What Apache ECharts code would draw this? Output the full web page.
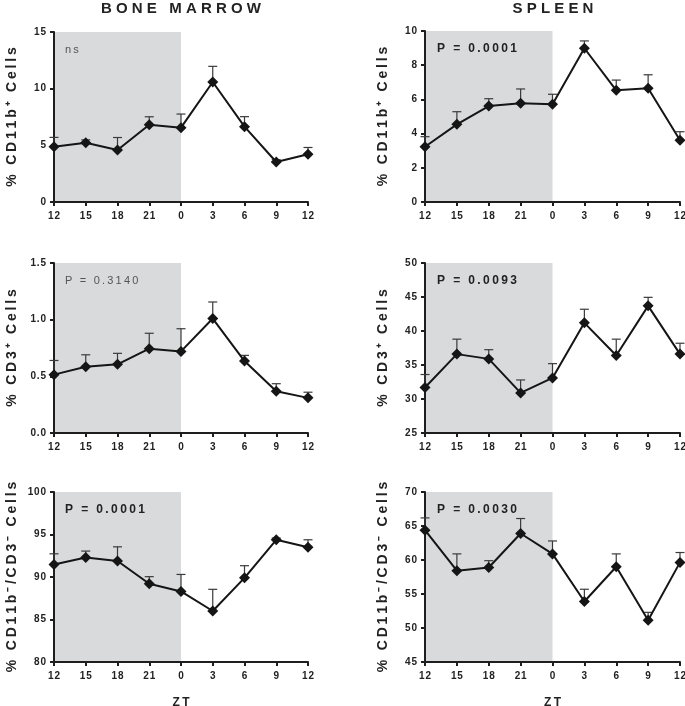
<!DOCTYPE html>
<html><head><meta charset="utf-8">
<script src="https://cdn.jsdelivr.net/npm/echarts@6/dist/echarts.min.js"></script>
<style>html,body{margin:0;padding:0;background:#fff}#c{width:685px;height:706px}</style>
</head><body><div id="c"></div>
<script>
// ZT categories (x axis tick labels)
const zt = ['12','15','18','21','0','3','6','9','12'];
// dark phase: from ZT12 (index 0) to ZT0 (index 4)
const darkPhase = [0, 4];

// Bone marrow
const bmCd11b    = [4.88, 5.23, 4.59, 6.82, 6.56, 10.59, 6.65, 3.53, 4.21];
const bmCd11bErr = [0.82, 0.25, 1.10, 0.70, 1.20, 1.38, 0.88, 0.20, 0.60];
const bmCd3      = [0.515, 0.585, 0.606, 0.744, 0.720, 1.010, 0.635, 0.368, 0.310];
const bmCd3Err   = [0.125, 0.105, 0.097, 0.136, 0.200, 0.146, 0.050, 0.067, 0.050];
const bmDn       = [91.48, 92.30, 91.88, 89.20, 88.30, 86.00, 89.90, 94.38, 93.50];
const bmDnErr    = [1.25, 0.75, 1.67, 0.84, 2.00, 2.55, 1.43, 0.20, 0.88];

// Spleen
const spCd11b    = [3.23, 4.54, 5.61, 5.77, 5.71, 8.99, 6.53, 6.65, 3.61];
const spCd11bErr = [0.59, 0.74, 0.43, 0.84, 0.59, 0.43, 0.60, 0.79, 0.50];
const spCd3      = [31.7, 36.6, 35.9, 30.9, 33.1, 41.2, 36.4, 43.7, 36.6];
const spCd3Err   = [1.9, 2.2, 1.35, 1.9, 2.1, 2.0, 2.4, 1.25, 1.6];
const spDn       = [64.38, 58.43, 58.90, 63.90, 60.90, 53.90, 59.00, 51.15, 59.65];
const spDnErr    = [1.81, 2.47, 1.00, 2.20, 1.90, 1.80, 1.90, 1.15, 1.45];

// y axis ranges [min, max, interval, decimals]
const yRanges = [
  [0, 15, 5, 0], [0, 10, 2, 0],
  [0, 1.5, 0.5, 1], [25, 50, 5, 0],
  [80, 100, 5, 0], [45, 70, 5, 0]
];
const yNames = [
  '% CD11b\u207A Cells', '% CD11b\u207A Cells',
  '% CD3\u207A Cells', '% CD3\u207A Cells',
  '% CD11b\u207B/CD3\u207B Cells', '% CD11b\u207B/CD3\u207B Cells'
];
const pLabels = ['ns', 'P = 0.0001', 'P = 0.3140', 'P = 0.0093', 'P = 0.0001', 'P = 0.0030'];
const pBold = [false, true, false, true, true, true];
const means = [bmCd11b, spCd11b, bmCd3, spCd3, bmDn, spDn];
const errs = [bmCd11bErr, spCd11bErr, bmCd3Err, spCd3Err, bmDnErr, spDnErr];

const FONT = 'Liberation Sans, Arial, Helvetica, sans-serif';
const sp = s => s.split('').join('\u2009');
const hs = s => s.split('').join('\u200A');

const grids = [
  {left: 54, top: 32, width: 254, height: 170},
  {left: 425, top: 31, width: 255, height: 171},
  {left: 54, top: 263, width: 254, height: 170},
  {left: 425, top: 263, width: 255, height: 170},
  {left: 54, top: 492, width: 254, height: 170},
  {left: 425, top: 492, width: 255, height: 170}
].map(g => Object.assign(g, {outerBoundsMode: 'none', containLabel: false}));

const axisLine = {lineStyle: {color: '#1e1e1e', width: 2}};
const axisTick = {inside: false, length: 4, lineStyle: {color: '#1e1e1e', width: 2}};

const xAxes = [], yAxes = [], series = [], graphics = [];
for (let k = 0; k < 6; k++) {
  const bottom = k >= 4;
  xAxes.push({
    gridIndex: k, type: 'value', min: 0, max: zt.length - 1, interval: 1, z: 2,
    axisLine: axisLine, axisTick: axisTick, splitLine: {show: false},
    axisLabel: {formatter: v => hs(zt[v]), color: '#222', fontFamily: FONT, fontWeight: 'bold', fontSize: 10, margin: 9},
    name: bottom ? sp('ZT') : '', nameLocation: 'middle', nameGap: 35,
    nameTextStyle: {fontFamily: FONT, fontWeight: 'bold', fontSize: 12, color: '#222'}
  });
  const r = yRanges[k];
  yAxes.push({
    gridIndex: k, type: 'value', min: r[0], max: r[1], interval: r[2], z: 2,
    axisLine: axisLine, axisTick: axisTick, splitLine: {show: false},
    axisLabel: {formatter: v => hs(v.toFixed(r[3])), color: '#222', fontFamily: FONT, fontWeight: 'bold', fontSize: 10, margin: 8},
    name: sp(yNames[k]), nameLocation: 'middle', nameGap: 35,
    nameTextStyle: {fontFamily: FONT, fontWeight: 'bold', fontSize: 14, color: '#222'}
  });
  // shading (dark phase)
  series.push({
    type: 'custom', xAxisIndex: k, yAxisIndex: k, z: 1, silent: true,
    data: [[darkPhase[0], darkPhase[1]]],
    renderItem: (params, api) => {
      const a = api.coord([api.value(0), r[1]]);
      const b = api.coord([api.value(1), r[0]]);
      return {type: 'rect', shape: {x: a[0], y: a[1], width: b[0] - a[0], height: b[1] - a[1]}, style: {fill: '#d9dadb'}};
    }
  });
  // error bars (upper only)
  series.push({
    type: 'custom', xAxisIndex: k, yAxisIndex: k, z: 3, silent: true,
    data: means[k].map((v, i) => [i, v, errs[k][i]]),
    renderItem: (params, api) => {
      const x = api.value(0), y = api.value(1), e = api.value(2);
      const p0 = api.coord([x, y]);
      const p1 = api.coord([x, y + e]);
      const st = {stroke: '#3a3a3a', lineWidth: 1.2};
      return {type: 'group', children: [
        {type: 'line', shape: {x1: p0[0], y1: p0[1], x2: p1[0], y2: p1[1]}, style: st},
        {type: 'line', shape: {x1: p1[0] - 4.5, y1: p1[1], x2: p1[0] + 4.5, y2: p1[1]}, style: st}
      ]};
    }
  });
  // mean line
  series.push({
    type: 'line', xAxisIndex: k, yAxisIndex: k, z: 4,
    data: means[k].map((v, i) => [i, v]),
    symbol: 'diamond', symbolSize: 11, showSymbol: true,
    lineStyle: {color: '#151515', width: 2},
    itemStyle: {color: '#151515'},
    clip: false, animation: false
  });
  // P labels
  const g = grids[k];
  graphics.push({
    type: 'text', z: 20, x: g.left + (k % 2 === 0 ? 11 : 12), y: g.top + 18,
    style: {text: sp(pLabels[k]), fill: pBold[k] ? '#222' : '#555', font: (pBold[k] ? 'bold 12px ' : '11px ') + FONT, verticalAlign: 'middle'}
  });
}
graphics.push({type: 'text', z: 20, x: 181, y: 9, style: {text: 'B O N E   M A R R O W', fill: '#222', font: 'bold 15px ' + FONT, align: 'center', verticalAlign: 'middle'}});
graphics.push({type: 'text', z: 20, x: 553, y: 9, style: {text: 'S P L E E N', fill: '#222', font: 'bold 15px ' + FONT, align: 'center', verticalAlign: 'middle'}});

const chart = echarts.init(document.getElementById('c'), null, {renderer: 'canvas'});
chart.setOption({
  animation: false,
  backgroundColor: '#fff',
  grid: grids,
  xAxis: xAxes,
  yAxis: yAxes,
  series: series,
  graphic: graphics
});
</script>
</body></html>
